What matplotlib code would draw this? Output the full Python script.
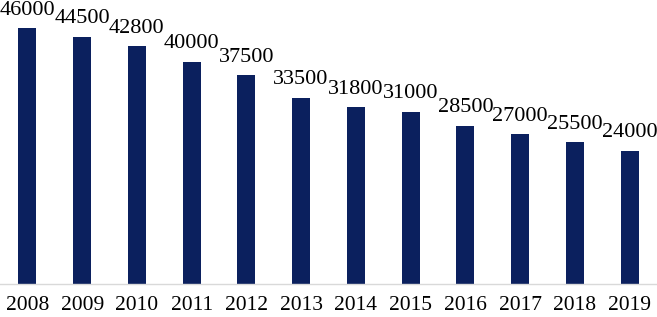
import matplotlib
matplotlib.use("Agg")
import matplotlib.pyplot as plt

years = ["2008", "2009", "2010", "2011", "2012", "2013",
         "2014", "2015", "2016", "2017", "2018", "2019"]
values = [46000, 44500, 42800, 40000, 37500, 33500,
          31800, 31000, 28500, 27000, 25500, 24000]

plt.rcParams["font.family"] = ["Liberation Serif", "DejaVu Serif"]

fig = plt.figure(figsize=(6.57, 3.17), dpi=100)
ax = fig.add_axes([0.0, 33 / 317, 1.0, 278 / 317])

x = range(len(years))
bars = ax.bar(x, values, width=0.33, color="#0B205E")
ax.bar_label(bars, labels=[str(v) for v in values], padding=6, fontsize=16)

ax.set_xlim(-0.5, len(years) - 0.5)
ax.set_ylim(0, 50000)
ax.set_xticks(list(x))
ax.set_xticklabels(years, fontsize=15.5)
ax.tick_params(axis="x", length=0, pad=9)
ax.set_yticks([])

for side in ["top", "left", "right"]:
    ax.spines[side].set_visible(False)
ax.spines["bottom"].set_color("#D9D9D9")
ax.spines["bottom"].set_linewidth(1.0)

fig.savefig("out.png", dpi=100)
